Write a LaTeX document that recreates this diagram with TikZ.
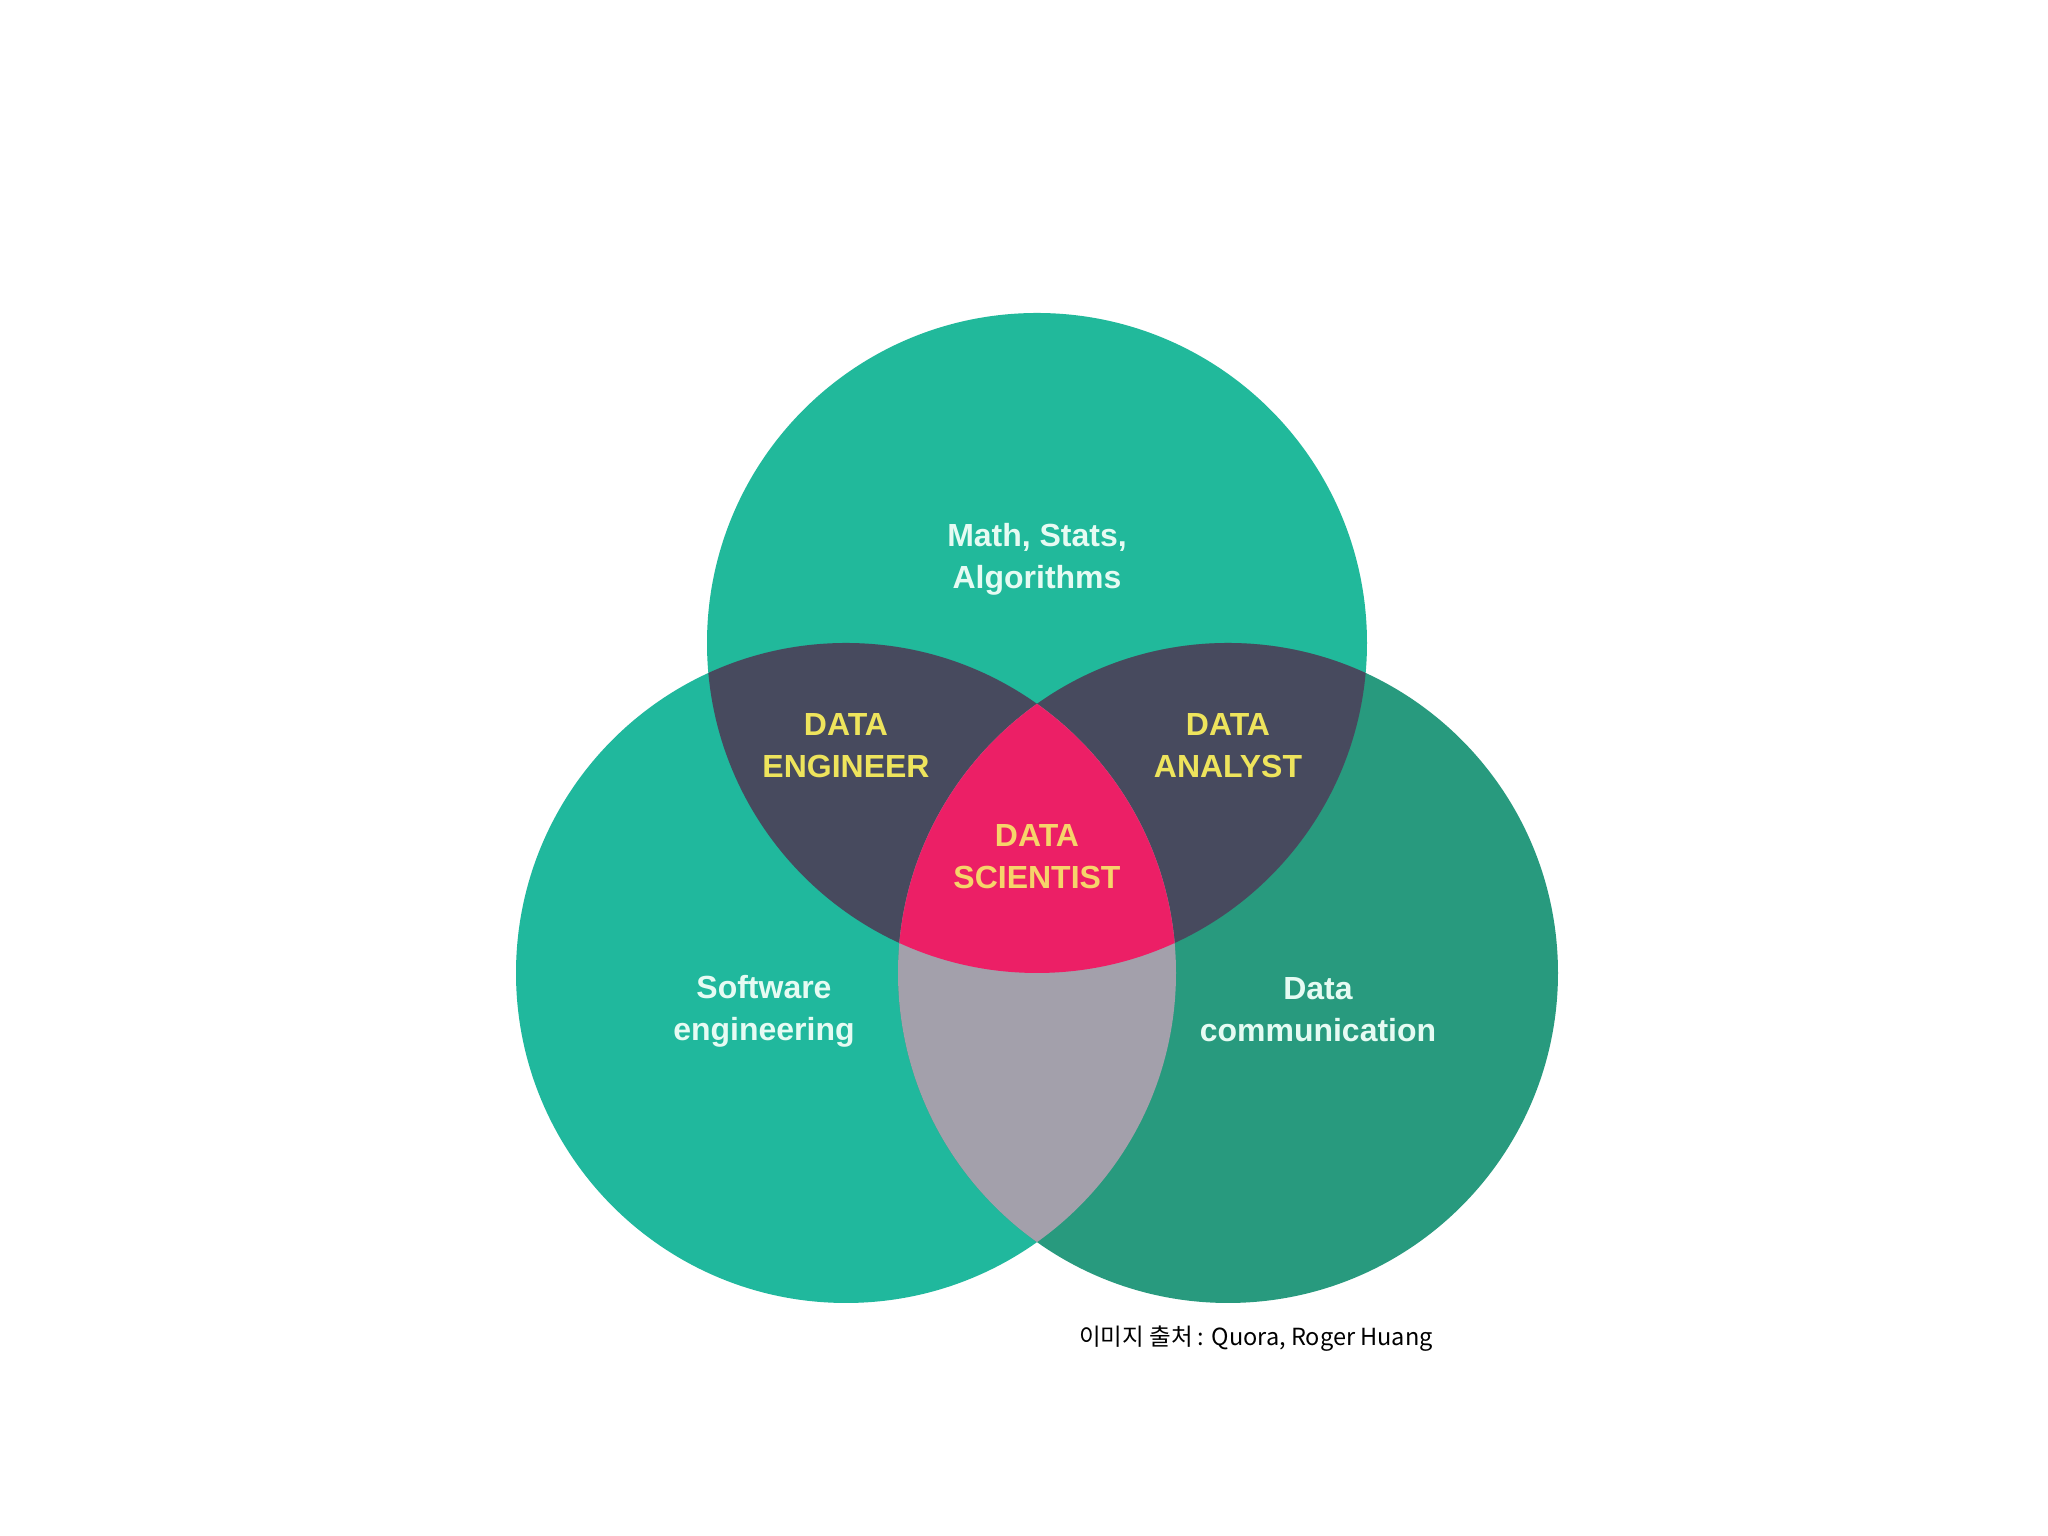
\documentclass[tikz,border=0pt]{standalone}
\usepackage{fontspec}
\setmainfont{Liberation Sans}
\newfontfamily\krfont{Noto Sans CJK KR}
\usetikzlibrary{positioning}

\begin{document}
\begin{tikzpicture}[ line width=.9pt
  ]
% Colours and styles
\definecolor{tealtop}{HTML}{21B99B}
\definecolor{tealleft}{HTML}{20B89D}
\definecolor{tealright}{HTML}{289A7E}
\definecolor{slate}{HTML}{474A5E}
\definecolor{rose}{HTML}{EC1F66}
\definecolor{greyish}{HTML}{A3A0AB}
\definecolor{mint}{HTML}{E6FBF3}
\definecolor{yel}{HTML}{EEE45C}
\definecolor{yelrose}{HTML}{F6D46A}

\tikzstyle{set}=[circle,draw=none,outer sep=0pt,inner sep=0pt,minimum size=6.6cm]
\tikzstyle{lbl}=[text=mint,align=center,font=\bfseries\fontsize{9.1}{12}\selectfont]
\tikzstyle{role}=[lbl,text=yel]

\fill[white] (0,0) rectangle (20.48,15.36);
% Circles
\node[set,fill=tealtop] (mth) at (10.37,8.93) {};
\node[set,fill=tealleft] (sw) at (8.46,5.63) {};
\node[set,fill=tealright] (dc) at (12.28,5.63) {};

% Overlaps
\begin{scope}
\clip (mth.center) circle (3.3cm);
\fill[slate] (sw.center) circle (3.3cm);
\fill[slate] (dc.center) circle (3.3cm);
\end{scope}
\begin{scope}
\clip (sw.center) circle (3.3cm);
\fill[greyish] (dc.center) circle (3.3cm);
\clip (mth.center) circle (3.3cm);
\fill[rose] (dc.center) circle (3.3cm);
\end{scope}

% Labels
\node[lbl] (mthlbl) at ([yshift=.84cm]mth.center) {Math, Stats,\\Algorithms};
\node[lbl] (swlbl) at ([xshift=-.82cm,yshift=-.38cm]sw.center) {Software\\engineering};
\node[lbl] (dclbl) at ([xshift=.90cm,yshift=-.37cm]dc.center) {Data\\communication};

\node[role] (eng) at ([yshift=2.27cm]sw.center) {DATA\\ENGINEER};
\node[role] (ana) at ([yshift=2.27cm]dc.center) {DATA\\ANALYST};
\node[role,text=yelrose] (sci) at ([yshift=-2.14cm]mth.center) {DATA\\SCIENTIST};

\node[text=black,font=\krfont\fontsize{6.7}{8}\selectfont] (src) at ([xshift=.28cm,yshift=-.36cm]dc.south) {이미지 출처 : Quora, Roger Huang};
%---------------------
\end{tikzpicture}
\end{document}
